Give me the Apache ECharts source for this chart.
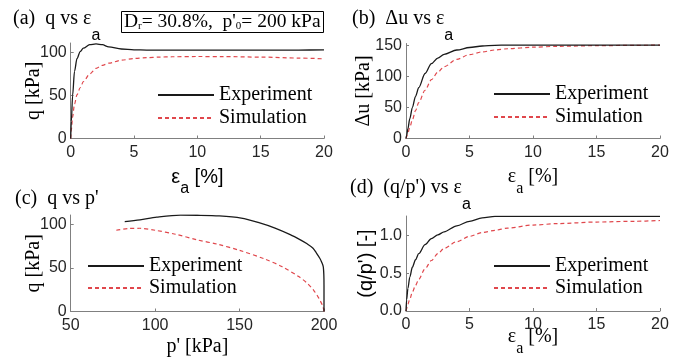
<!DOCTYPE html>
<html>
<head>
<meta charset="utf-8">
<script src="https://cdn.jsdelivr.net/npm/echarts@6/dist/echarts.min.js"></script>
<style>
  html, body { margin: 0; background: #fff; }
  #chart { width: 683px; height: 363px; }
</style>
</head>
<body>
<div id="chart"></div>
<script>
// axial strain grid shared by panels (a), (b), (d)
const strain = [0, 0.05, 0.15, 0.3, 0.5, 0.75, 1, 1.5, 2, 2.5, 3, 4, 5, 6, 7, 8, 10, 12, 15, 18, 20];
const qExp = [0, 20, 50, 78, 93, 101, 105, 109, 110, 109, 106.5, 104, 103, 102.8, 102.8, 102.8, 102.8, 102.8, 102.8, 102.8, 103];
const qSim = [0, 10, 25, 40, 51, 59, 66, 75, 81.5, 85, 87.5, 91, 93, 94, 94.6, 95, 95.3, 95.2, 94.6, 93.5, 92.6];
const duExp = [0, 5, 16, 32, 50, 68, 82, 105, 121, 130, 136, 143, 147, 149.5, 150.5, 151, 151, 151, 151, 151, 151];
const duSim = [0, 3, 9, 18, 30, 45, 58, 78, 95, 107, 116, 128, 135.5, 140, 143, 145, 147.5, 149, 150, 150.5, 151];
const ratioExp = [0, 0.15, 0.3, 0.45, 0.58, 0.68, 0.76, 0.88, 0.96, 1.01, 1.05, 1.13, 1.19, 1.235, 1.255, 1.255, 1.255, 1.255, 1.255, 1.255, 1.255];
const ratioSim = [0, 0.03, 0.09, 0.16, 0.25, 0.34, 0.42, 0.56, 0.67, 0.76, 0.83, 0.92, 0.99, 1.04, 1.07, 1.1, 1.14, 1.16, 1.18, 1.19, 1.2];

// stress path (c)
const pExpC = [200, 200, 200, 199.6, 198.5, 197.5, 195.5, 193.5, 190, 186, 180, 171, 161, 151, 138, 125, 115, 101, 91, 82];
const qExpC = [0, 12, 30, 51, 57, 61, 67, 72.5, 77.5, 82, 88, 95.5, 102, 107, 109.5, 110.2, 110.3, 108, 105, 103];
const pSimC = [200, 199.3, 197, 194, 190, 185, 175, 165, 150, 137, 125, 112, 100, 91, 84, 77];
const qSimC = [0, 6, 15, 24, 32.5, 40, 51.5, 60, 70, 77, 82, 88.5, 93, 95.3, 95, 93];

// tick labels
const strainTicks = [0, 5, 10, 15, 20];
const qTicks = [0, 50, 100];
const duTicks = [0, 50, 100, 150];
const pTicks = [50, 100, 150, 200];
const ratioTicks = [0, 0.5, 1.0];
const legendNames = ['Experiment', 'Simulation'];

const SERIF = 'Liberation Serif';
const SANS = 'Liberation Sans';
const AXIS_GRAY = '#808080';
const EXP_COLOR = '#1a1a1a';
const SIM_COLOR = '#e0474c';

const zip = (xs, ys) => xs.map((x, i) => [x, ys[i]]);

// rich styles: main text top-aligned, subscript pushed down by padding
function richSet(mainFont, subFont, subSize, subPad) {
  return {
    m: { fontFamily: mainFont, fontSize: 20, lineHeight: 22, fontWeight: 'normal', color: '#000', verticalAlign: 'top' },
    s: { fontFamily: subFont, fontSize: subSize, lineHeight: subSize, fontWeight: 'normal', color: '#000',
         verticalAlign: 'top', padding: [subPad, 0, 0, 0] }
  };
}

function xAxis(grid, min, max, ticks, name, nameGap, rich) {
  return {
    type: 'value', gridIndex: grid, min: min, max: max,
    name: name, nameLocation: 'middle', nameGap: nameGap, nameMoveOverlap: false,
    nameTextStyle: { rich: rich },
    axisLine: { lineStyle: { color: AXIS_GRAY, width: 1 } },
    axisTick: { inside: true, length: 3, lineStyle: { color: AXIS_GRAY }, customValues: ticks },
    axisLabel: { customValues: ticks, margin: 6, fontFamily: SANS, fontSize: 16, color: '#262626' },
    splitLine: { show: false }
  };
}

function yAxis(grid, min, max, ticks, name, nameGap, font, fmt) {
  return {
    type: 'value', gridIndex: grid, min: min, max: max,
    name: name, nameLocation: 'middle', nameGap: nameGap, nameMoveOverlap: false,
    nameTextStyle: { fontFamily: font, fontSize: 20, lineHeight: 22, color: '#000' },
    axisLine: { show: true, lineStyle: { color: AXIS_GRAY, width: 1 } },
    axisTick: { show: true, inside: true, length: 3, lineStyle: { color: AXIS_GRAY }, customValues: ticks },
    axisLabel: { customValues: ticks, margin: 4, fontFamily: SANS, fontSize: 16, color: '#262626',
                 formatter: fmt },
    splitLine: { show: false }
  };
}

function curve(name, grid, data, monotone) {
  const isExp = name === 'Experiment';
  return {
    name: name, type: 'line', xAxisIndex: grid, yAxisIndex: grid,
    data: data, symbol: 'none', showSymbol: false, smooth: 0.3,
    smoothMonotone: monotone ? 'x' : undefined,
    lineStyle: isExp
      ? { color: EXP_COLOR, width: 1.3, type: 'solid' }
      : { color: SIM_COLOR, width: 1.2, type: [4, 3] },
    itemStyle: { color: isExp ? EXP_COLOR : SIM_COLOR },
    z: isExp ? 3 : 2
  };
}

function legend(left, top, gap) {
  return {
    data: legendNames, left: left, top: top, orient: 'vertical', padding: 0,
    itemGap: gap, itemWidth: 56, itemHeight: 14, selectedMode: false,
    itemStyle: { opacity: 0 },
    textStyle: { fontFamily: SERIF, fontSize: 20, lineHeight: 20, color: '#000' }
  };
}

function panelTitle(text, left, top) {
  return {
    text: text, left: left, top: top, padding: 0,
    textStyle: { fontWeight: 'normal', rich: richSet(SERIF, SANS, 16, 19) }
  };
}

const chart = echarts.init(document.getElementById('chart'), null, { renderer: 'canvas' });

const option = {
  backgroundColor: '#fff',
  animation: false,
  title: [
    panelTitle('{m|(a)  q vs ε}{s|a}', 13, 8.5),
    panelTitle('{m|(b)  Δu vs ε}{s|a}', 352, 8.5),
    panelTitle("{m|(c)  q vs p'}", 15, 188.5),
    panelTitle("{m|(d)  (q/p') vs ε}{s|a}", 350, 177.5),
    {
      text: "{m|D}{r|r}{m|= 30.8%,  p'}{r|0}{m|= 200 kPa}",
      left: 121, top: 11, padding: [1, 3, 1, 3],
      borderColor: '#000', borderWidth: 1,
      textStyle: {
        fontWeight: 'normal',
        rich: {
          m: { fontFamily: SERIF, fontSize: 19.5, lineHeight: 20, fontWeight: 'normal', color: '#000', verticalAlign: 'top' },
          r: { fontFamily: SERIF, fontSize: 11, lineHeight: 11, fontWeight: 'normal', color: '#000', verticalAlign: 'top',
               padding: [9, 0, 0, 0] }
        }
      }
    }
  ],
  legend: [
    legend(157, 85, 3),
    legend(493, 84, 3),
    legend(87, 256, 2),
    legend(493, 256, 2)
  ],
  grid: [
    { left: 70.7, top: 43, width: 253.3, height: 95.5 },
    { left: 406, top: 43.5, width: 254, height: 95 },
    { left: 70.7, top: 215, width: 253.3, height: 96.5 },
    { left: 406, top: 216, width: 254, height: 95 }
  ],
  xAxis: [
    xAxis(0, 0, 20, strainTicks, '{m|ε}{s|a}{m| [%]}', 28.5, richSet(SANS, SANS, 16, 14)),
    xAxis(1, 0, 20, strainTicks, '{m|ε}{s|a}{m| [%]}', 28.5, richSet(SERIF, SERIF, 16, 14)),
    xAxis(2, 50, 200, pTicks, "{m|p' [kPa]}", 25.5, richSet(SERIF, SERIF, 16, 14)),
    xAxis(3, 0, 20, strainTicks, '{m|ε}{s|a}{m| [%]}', 15.6, richSet(SERIF, SERIF, 16, 14))
  ],
  yAxis: [
    yAxis(0, 0, 111, qTicks, 'q [kPa]', 26, SERIF),
    yAxis(1, 0, 153.5, duTicks, 'Δu [kPa]', 31, SERIF),
    yAxis(2, 0, 110.5, qTicks, 'q [kPa]', 26, SERIF),
    yAxis(3, 0, 1.26, ratioTicks, "(q/p') [-]", 29, SANS, v => v.toFixed(1))
  ],
  series: [
    curve('Experiment', 0, zip(strain, qExp), true),
    curve('Simulation', 0, zip(strain, qSim), true),
    curve('Experiment', 1, zip(strain, duExp), true),
    curve('Simulation', 1, zip(strain, duSim), true),
    curve('Experiment', 2, zip(pExpC, qExpC), false),
    curve('Simulation', 2, zip(pSimC, qSimC), false),
    curve('Experiment', 3, zip(strain, ratioExp), true),
    curve('Simulation', 3, zip(strain, ratioSim), true)
  ]
};

chart.setOption(option);
window.addEventListener('resize', () => chart.resize());
</script>
</body>
</html>
